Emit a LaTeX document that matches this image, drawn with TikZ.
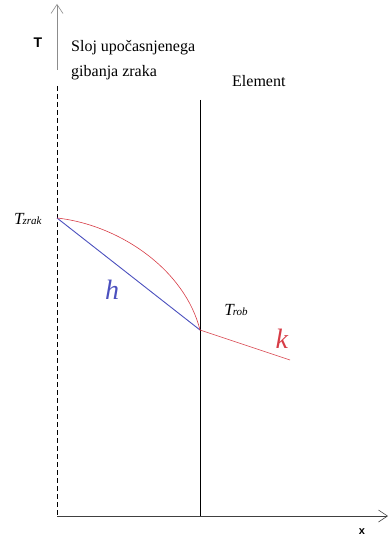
\documentclass[tikz,border=0pt]{standalone}
\usepackage{fontspec}
\setmainfont{Liberation Serif}
\newfontfamily\axisfont{Liberation Sans}
\newfontfamily\labelfont{Liberation Serif}
\usetikzlibrary{calc}
\usetikzlibrary{arrows.meta}
\definecolor{hblue}{RGB}{75,80,190}
\definecolor{kred}{RGB}{215,60,70}

\begin{document}
\begin{tikzpicture}[x=1pt,y=-1pt,inner sep=0pt]
\useasboundingbox (0,0) rectangle (388,537);
\tikzset{axis/.style={line width=0.8pt,-{Straight Barb[length=9pt,width=12pt,line width=0.6pt]}}}
\tikzset{lbl/.style={font=\labelfont\fontsize{16}{16}\selectfont}}
\coordinate (o) at (57,516);
\coordinate (top) at (57,4);
\coordinate (xend) at (388,516);
\coordinate (tz) at (57,218);
\coordinate (tr) at (200,330);
\coordinate (kend) at (290,360);
\coordinate (wtop) at (200,100);
\coordinate (wbot) at (200,516);

% axes
\draw[axis,black!45] (57,70) -- (top);
\draw[dashed,line width=0.8pt,dash pattern=on 5pt off 3pt] (57,86) -- (o);
\draw[axis,black!75] (o) -- (xend);
\draw[line width=0.8pt] (wtop) -- (wbot);

% curves
\draw[hblue,line width=0.9pt] (tz) -- (tr);
\draw[kred,line width=0.6pt] (tz) .. controls (120,225) and (185,270) .. (tr);
\draw[kred,line width=0.6pt] (tr) -- (kend);

% labels
\node (T) at (38,43) {\axisfont\bfseries\fontsize{14}{14}\selectfont T};
\node (x) at (362,532) {\axisfont\bfseries\fontsize{11}{11}\selectfont x};
\node[lbl,anchor=base west] (sloj) at (71,52) {Sloj upočasnjenega};
\node[lbl,anchor=base west] (gib) at (71,77) {gibanja zraka};
\node[lbl,anchor=west] (el) at (232,81) {Element};
\node (tzl) at (28,219) {\fontsize{17}{17}\selectfont\textit{T\kern-1pt\fontsize{11}{11}\selectfont zrak}};
\node (trl) at (236,310) {\fontsize{17}{17}\selectfont\textit{T\kern-1pt\fontsize{11}{11}\selectfont rob}};
\node[text=hblue] (h) at (112,290) {\fontsize{28}{28}\selectfont\textit{h}};
\node[text=kred] (k) at (282,339) {\fontsize{28}{28}\selectfont\textit{k}};
\end{tikzpicture}
\end{document}
